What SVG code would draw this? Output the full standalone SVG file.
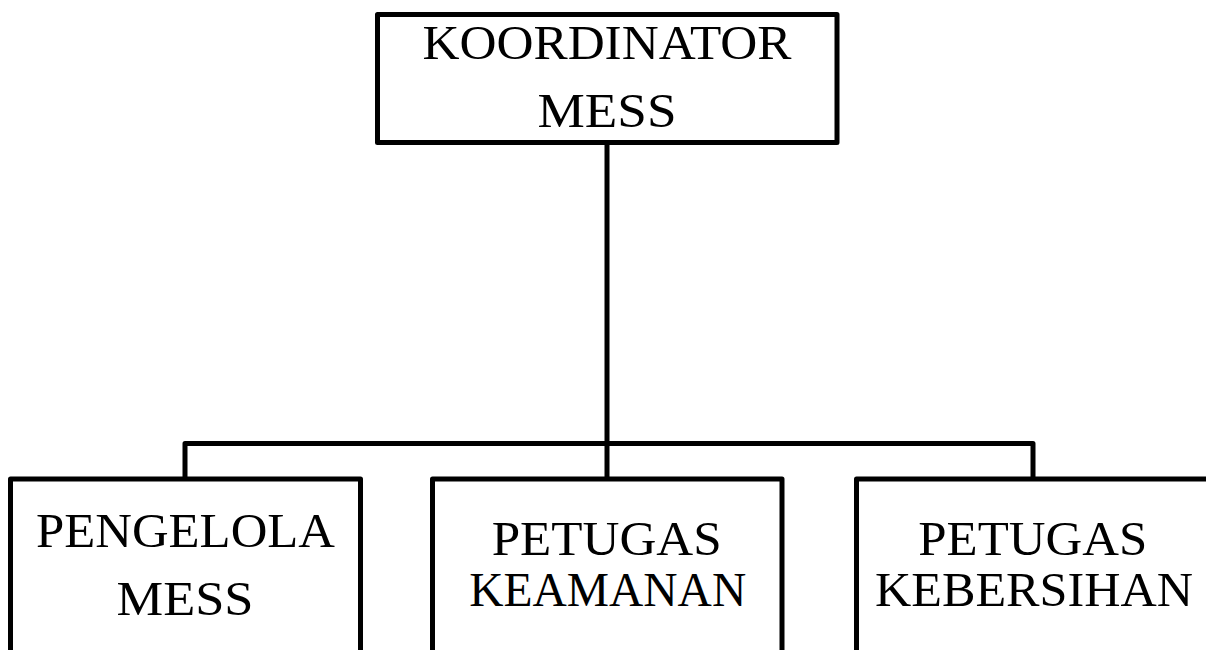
<svg xmlns="http://www.w3.org/2000/svg" width="1206" height="650" viewBox="0 0 1206 650">
<style>
.box{fill:#fff;stroke:#000;stroke-width:5;stroke-linejoin:round}
.line{fill:none;stroke:#000;stroke-width:5;stroke-linejoin:round}
.t{font-family:"Liberation Serif","Times New Roman",serif;font-size:48px;fill:#000;text-anchor:middle}
</style>
<rect width="1206" height="650" fill="#fff"/>
<g id="connectors">
<line class="line" x1="607" y1="142.5" x2="607" y2="479"/>
<polyline class="line" points="185,479 185,443.5 1033,443.5 1033,479"/>
</g>
<g id="koordinator">
<rect class="box" x="377.5" y="14.5" width="459.5" height="128"/>
<text class="t" x="607" y="58.5" textLength="369" lengthAdjust="spacingAndGlyphs">KOORDINATOR</text>
<text class="t" x="607" y="126.5" textLength="139" lengthAdjust="spacingAndGlyphs">MESS</text>
</g>
<g id="pengelola">
<rect class="box" x="10.5" y="479" width="350" height="200"/>
<text class="t" x="185.5" y="546.5" textLength="299" lengthAdjust="spacingAndGlyphs">PENGELOLA</text>
<text class="t" x="185" y="615" textLength="137" lengthAdjust="spacingAndGlyphs">MESS</text>
</g>
<g id="keamanan">
<rect class="box" x="432.5" y="479" width="349.5" height="200"/>
<text class="t" x="606.7" y="555" textLength="230" lengthAdjust="spacingAndGlyphs">PETUGAS</text>
<text class="t" x="607.7" y="606" textLength="277" lengthAdjust="spacingAndGlyphs">KEAMANAN</text>
</g>
<g id="kebersihan">
<rect class="box" x="856.5" y="479" width="352" height="200"/>
<text class="t" x="1032.8" y="555" textLength="229" lengthAdjust="spacingAndGlyphs">PETUGAS</text>
<text class="t" x="1034" y="606" textLength="318" lengthAdjust="spacingAndGlyphs">KEBERSIHAN</text>
</g>
</svg>
